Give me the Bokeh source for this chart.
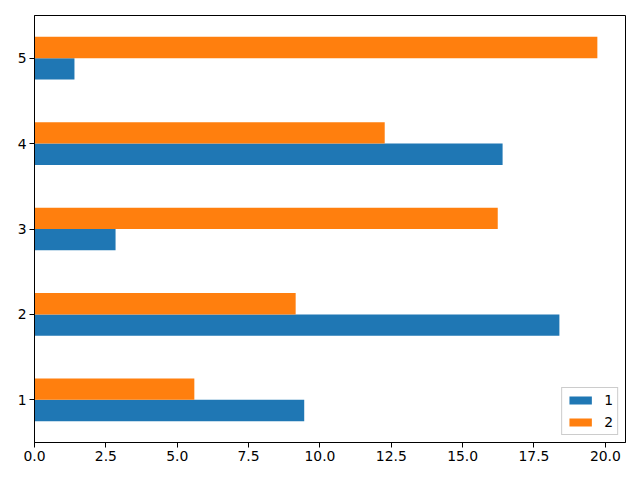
from bokeh.plotting import figure
from bokeh.models import Range1d, FixedTicker, PrintfTickFormatter, Legend, LegendItem
from bokeh.embed import file_html
from bokeh.resources import INLINE

categories = [1, 2, 3, 4, 5]
series1 = [9.45, 18.39, 2.84, 16.40, 1.40]
series2 = [5.60, 9.15, 16.23, 12.27, 19.72]
series_names = ["1", "2"]
x_ticks = [0, 2.5, 5, 7.5, 10, 12.5, 15, 17.5, 20]
colors = ["#1f77b4", "#ff7f0e"]

bar_h = 0.25
xmax = max(max(series1), max(series2)) * 1.05

p = figure(width=640, height=480, output_backend="svg", toolbar_location=None,
           x_range=Range1d(0, xmax), y_range=Range1d(0.5, 5.5))
p.min_border_left = 34
p.min_border_right = 15
p.min_border_top = 15
p.min_border_bottom = 38

y1 = [c - bar_h / 2 for c in categories]
y2 = [c + bar_h / 2 for c in categories]
r1 = p.hbar(y=y1, left=0, right=series1, height=bar_h, fill_color=colors[0], line_color=None)
r2 = p.hbar(y=y2, left=0, right=series2, height=bar_h, fill_color=colors[1], line_color=None)

p.xgrid.visible = False
p.ygrid.visible = False
p.outline_line_color = "black"
p.outline_line_alpha = 1.0
p.outline_line_width = 1

p.xaxis.ticker = FixedTicker(ticks=x_ticks)
p.xaxis.formatter = PrintfTickFormatter(format="%.1f")
p.yaxis.ticker = FixedTicker(ticks=categories)
for ax in (p.xaxis, p.yaxis):
    ax.axis_line_color = "black"
    ax.major_tick_line_color = "black"
    ax.major_tick_out = 5
    ax.major_tick_in = 0
    ax.minor_tick_line_color = None
    ax.major_label_text_color = "black"
    ax.major_label_text_font = "DejaVu Sans"
    ax.major_label_text_font_size = "13.9px"
    ax.major_label_standoff = 3

legend = Legend(items=[LegendItem(label=series_names[0], renderers=[r1]),
                       LegendItem(label=series_names[1], renderers=[r2])],
                location="bottom_right")
legend.margin = 7
legend.padding = 4
legend.spacing = 6
legend.glyph_width = 28
legend.glyph_height = 10
legend.label_height = 14
legend.label_width = 8
legend.label_standoff = 10
legend.label_text_font = "DejaVu Sans"
legend.label_text_font_size = "13.9px"
legend.label_text_color = "black"
legend.border_line_color = "#cccccc"
legend.border_line_alpha = 1.0
legend.background_fill_alpha = 0.8
p.add_layout(legend)

open("out.html", "w").write(file_html(p, INLINE))
